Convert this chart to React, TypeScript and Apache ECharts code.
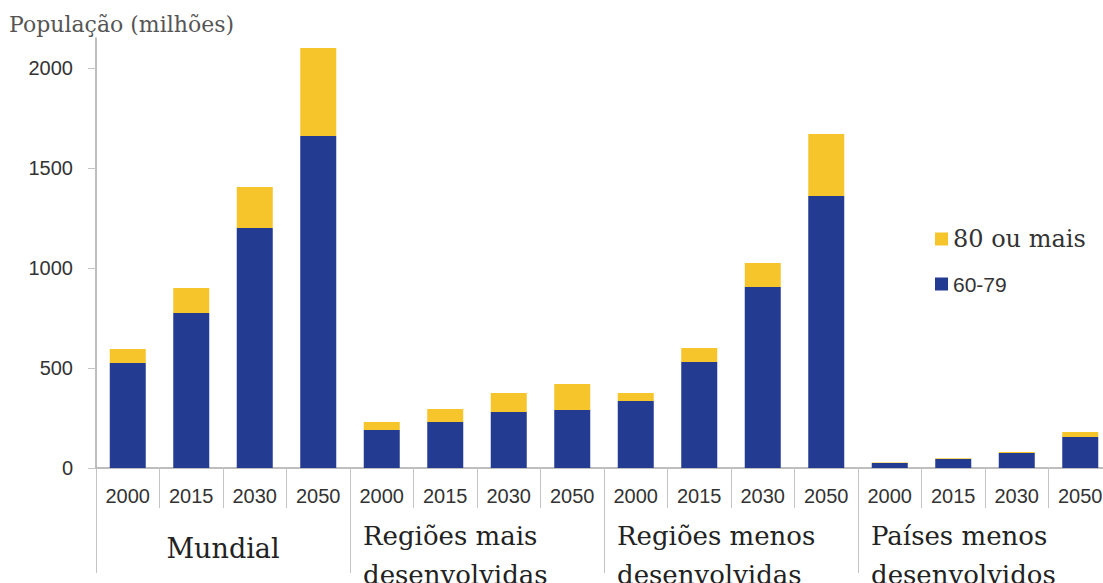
import React, { useEffect, useRef } from "react";
import * as echarts from "echarts";

const groups = [
  "Mundial",
  "Regiões mais\ndesenvolvidas",
  "Regiões menos\ndesenvolvidas",
  "Países menos\ndesenvolvidos",
];
const years = ["2000", "2015", "2030", "2050"];
const yTicks = [0, 500, 1000, 1500, 2000];

// 60-79 anos (milhões)
const v6079 = [525, 775, 1200, 1660, 190, 230, 280, 290, 335, 530, 905, 1360, 25, 45, 75, 155];
// 80 ou mais (milhões)
const v80 = [70, 125, 205, 440, 40, 65, 95, 130, 40, 70, 120, 310, 3, 4, 5, 25];

const BLUE = "#233b91";
const YELLOW = "#f5c52b";
const SERIF = "'DejaVu Serif', serif";
const SANS = "'Liberation Sans', Arial, sans-serif";

export default function App() {
  const ref = useRef<HTMLDivElement>(null);

  useEffect(() => {
    document.body.style.margin = "0";
    if (!ref.current) return;
    const chart = echarts.init(ref.current, undefined, { renderer: "svg" });

    const categories = groups.flatMap((g, gi) => years.map((y) => gi + "|" + y));

    chart.setOption({
      animation: false,
      backgroundColor: "#ffffff",
      title: {
        text: "População (milhões)",
        left: 4,
        top: 8,
        textStyle: { fontFamily: SERIF, fontSize: 22, fontWeight: "normal", color: "#555" },
      },
      legend: {
        orient: "vertical",
        left: 930,
        top: 222,
        itemWidth: 13,
        itemHeight: 13,
        itemGap: 21,
        icon: "rect",
        textStyle: { lineHeight: 24, color: "#333" },
        data: [
          { name: "80 ou mais", textStyle: { fontFamily: SERIF, fontSize: 24, color: "#333" } },
          { name: "60-79", textStyle: { fontFamily: SANS, fontSize: 21, color: "#333" } },
        ],
      },
      grid: { left: 96, top: 38, width: 1016, height: 430, outerBoundsMode: "none", containLabel: false },
      xAxis: [
        {
          type: "category",
          data: categories,
          position: "bottom",
          axisLine: { show: true, lineStyle: { color: "#a8a8a8", width: 1.5 } },
          axisTick: { show: true, interval: 0, length: 40, lineStyle: { color: "#c4c4c4" } },
          axisLabel: {
            interval: 0,
            margin: 28,
            verticalAlign: "middle",
            fontFamily: SANS,
            fontSize: 20,
            color: "#333",
            formatter: (v: string) => v.split("|")[1],
          },
        },
        {
          type: "category",
          data: groups,
          position: "bottom",
          axisLine: { show: false },
          axisTick: { show: true, interval: 0, length: 105, lineStyle: { color: "#c4c4c4" } },
          axisLabel: {
            interval: 0,
            margin: 87,
            verticalAlign: "middle",
            formatter: (v: string) => {
              if (v.indexOf("\n") < 0) return "{m|" + v + "}";
              return v
                .split("\n")
                .map((l) => "{g|" + l + "}")
                .join("\n");
            },
            rich: {
              g: { fontFamily: SERIF, fontSize: 26, color: "#222", width: 228, align: "left", lineHeight: 39 },
              m: { fontFamily: SERIF, fontSize: 27, color: "#222", lineHeight: 39, padding: [0, 0, 14, 0] },
            },
          },
        },
      ],
      yAxis: {
        type: "value",
        min: 0,
        max: 2150,
        interval: 500,
        axisLine: { show: true, lineStyle: { color: "#a8a8a8", width: 1.5 } },
        axisTick: { show: true, length: 8, customValues: yTicks, lineStyle: { color: "#c4c4c4" } },
        splitLine: { show: false },
        axisLabel: {
          margin: 23,
          fontFamily: SANS,
          fontSize: 20,
          color: "#333",
          customValues: yTicks,
          formatter: (v: number) => String(v),
        },
      },
      series: [
        {
          name: "60-79",
          type: "bar",
          stack: "total",
          barWidth: 36,
          xAxisIndex: 0,
          itemStyle: { color: BLUE },
          data: v6079,
        },
        {
          name: "80 ou mais",
          type: "bar",
          stack: "total",
          barWidth: 36,
          xAxisIndex: 0,
          itemStyle: { color: YELLOW },
          data: v80,
        },
      ],
    });

    return () => chart.dispose();
  }, []);

  return <div ref={ref} style={{ width: 1103, height: 583 }} />;
}
